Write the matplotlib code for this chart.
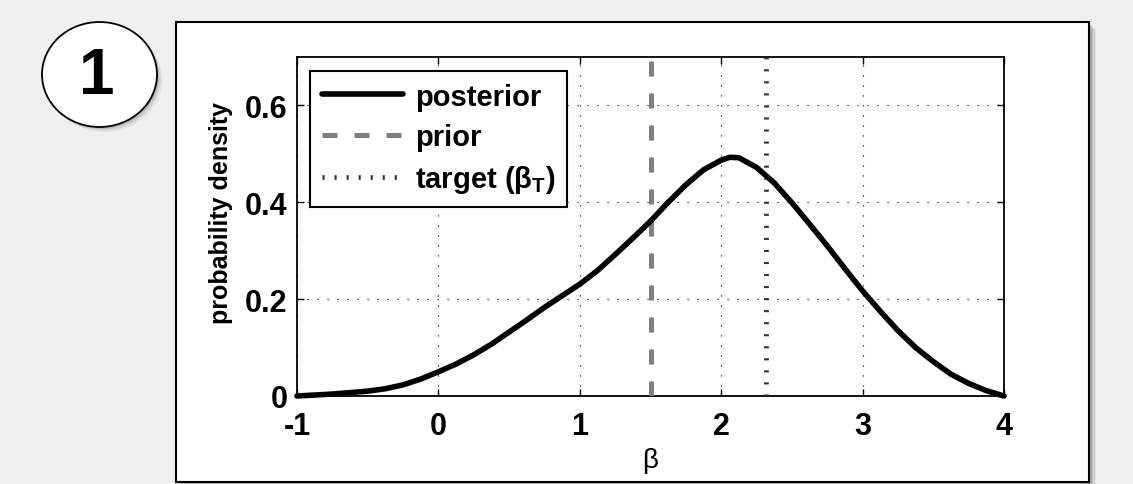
import numpy as np
import matplotlib.pyplot as plt
from matplotlib.patches import Rectangle, Ellipse

# values
beta = [-1.0, -0.875, -0.75, -0.625, -0.5, -0.375, -0.25, -0.125,
        0.0, 0.125, 0.25, 0.375, 0.5, 0.625, 0.75, 0.875,
        1.0, 1.125, 1.25, 1.375, 1.5, 1.625, 1.75, 1.875,
        2.0, 2.0625, 2.125, 2.25, 2.375, 2.5, 2.625, 2.75, 2.875,
        3.0, 3.125, 3.25, 3.375, 3.5, 3.625, 3.75, 3.875, 4.0]
density = [0.0, 0.002, 0.004, 0.007, 0.010, 0.015, 0.023, 0.035,
           0.050, 0.066, 0.085, 0.107, 0.132, 0.157, 0.183, 0.207,
           0.231, 0.259, 0.292, 0.326, 0.361, 0.400, 0.436, 0.467,
           0.487, 0.493, 0.492, 0.472, 0.440, 0.399, 0.355, 0.310, 0.263,
           0.217, 0.175, 0.135, 0.100, 0.071, 0.045, 0.026, 0.011, 0.0]
beta_prior = 1.5
beta_target = 2.32
xticks = [-1, 0, 1, 2, 3, 4]
yticks = [0, 0.2, 0.4, 0.6]
labels = ['posterior', 'prior', 'target (β$_\\mathrm{T}$)']

plt.rcParams['font.family'] = ['Liberation Sans', 'DejaVu Sans']
plt.rcParams['font.weight'] = 'bold'
plt.rcParams['axes.unicode_minus'] = False
plt.rcParams['mathtext.fontset'] = 'custom'
plt.rcParams['mathtext.rm'] = 'Liberation Sans:bold'
plt.rcParams['mathtext.it'] = 'Liberation Sans:bold'
plt.rcParams['mathtext.bf'] = 'Liberation Sans:bold'

W, H = 1133, 485
fig = plt.figure(figsize=(W / 100, H / 100), dpi=100, facecolor='#f0f0f0')


def fx(px):
    return px / W


def fy(py):
    return 1 - py / H


# panel with a soft shadow
for i, a in enumerate([0.05, 0.07, 0.09, 0.11]):
    off = 7 - 1.5 * i
    fig.add_artist(Rectangle((fx(176 + off), fy(483 + off)), fx(913), 460 / H,
                             transform=fig.transFigure, facecolor='k', alpha=a,
                             edgecolor='none', zorder=0))
fig.add_artist(Rectangle((fx(176), fy(483)), fx(913), 460 / H, transform=fig.transFigure,
                         facecolor='white', edgecolor='black', lw=1.5, zorder=1))

# numbered badge
for i, a in enumerate([0.05, 0.08, 0.11]):
    off = 5 - 1.5 * i
    fig.add_artist(Ellipse((fx(99.5 + off), fy(75.5 + off)), fx(115), 105 / H,
                           transform=fig.transFigure, facecolor='k', alpha=a,
                           edgecolor='none', zorder=0))
fig.add_artist(Ellipse((fx(99.5), fy(75.5)), fx(115), 105 / H, transform=fig.transFigure,
                       facecolor='white', edgecolor='black', lw=1.3, zorder=1))
fig.text(fx(97), fy(77.5), '1', fontsize=46, fontweight='bold', ha='center', va='center',
         zorder=2)

ax = fig.add_axes([fx(297), fy(397), fx(1004 - 297), (397 - 58) / H], zorder=3)
ax.set_facecolor('white')

ax.plot(beta, density, color='black', lw=4.0, clip_on=False, zorder=4,
        solid_joinstyle='round', solid_capstyle='round', label=labels[0])
ax.axvline(beta_prior, color='#808080', lw=3.6, dashes=(3, 3.4), label=labels[1], zorder=3)
ax.axvline(beta_target, color='#333333', lw=3.4, dashes=(0.45, 2.1), label=labels[2], zorder=3)

ax.set_xlim(-1, 4)
ax.set_ylim(0, 0.7)
ax.set_xticks(xticks)
ax.set_yticks(yticks)
ax.set_yticklabels(['0', '0.2', '0.4', '0.6'])
ax.grid(True, color='black', lw=0.8, linestyle=(0, (1, 8)))
ax.set_axisbelow(True)
ax.tick_params(direction='in', top=True, right=True, length=5, width=1,
               labelsize=22)
ax.tick_params(axis='x', pad=11)
ax.tick_params(axis='y', pad=7)
for s in ax.spines.values():
    s.set_linewidth(1.3)

ax.set_ylabel('probability density', fontsize=18, fontweight='bold', va='center')
ax.yaxis.set_label_coords(-0.1075, 0.543)
ax.set_xlabel('β', fontsize=20, fontweight='normal', va='center')
ax.xaxis.set_label_coords(0.5, -0.19)

leg = ax.legend(loc='upper left', bbox_to_anchor=(13 / 707, (397 - 72) / 339),
                borderaxespad=0, fontsize=21, handlelength=2.8, handletextpad=0.4,
                labelspacing=0.42, borderpad=0.4, fancybox=False, framealpha=1)
leg.get_frame().set_edgecolor('black')
leg.get_frame().set_linewidth(1.5)

fig.savefig('out.png', dpi=100, facecolor=fig.get_facecolor())
